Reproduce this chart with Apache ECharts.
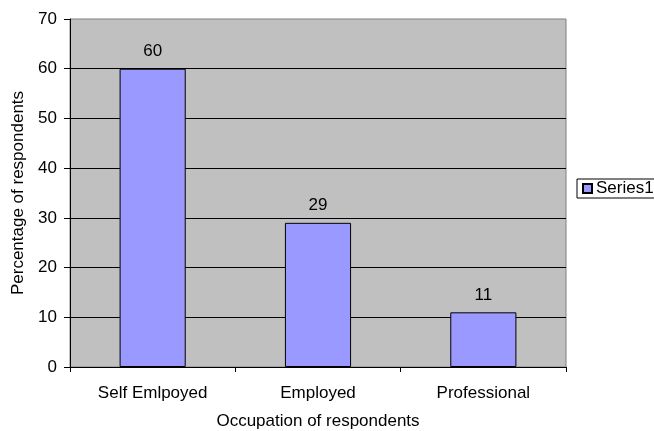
<!DOCTYPE html>
<html>
<head>
<meta charset="utf-8">
<script src="https://cdn.jsdelivr.net/npm/echarts@6/dist/echarts.min.js"></script>
<style>
html, body { margin: 0; padding: 0; background: #fff; }
#bar { width: 654px; height: 431px; }
</style>
</head>
<body>
<div id="bar"></div>
<script>
var categories = ['Self Emlpoyed', 'Employed', 'Professional'];
var series1 = [60, 29, 11];
var yTicks = [0, 10, 20, 30, 40, 50, 60, 70];

var chart = echarts.init(document.getElementById('bar'), null, {renderer: 'canvas'});

var font = 'Liberation Sans, Arial, sans-serif';
// no gridline drawn at the top (70)
var gridColors = yTicks.map(function (v, i) { return i === yTicks.length - 1 ? 'rgba(0,0,0,0)' : '#000'; });

chart.setOption({
    backgroundColor: '#fff',
    animation: false,
    textStyle: {fontFamily: font},
    grid: {
        left: 70, top: 19, width: 496, height: 348,
        outerBoundsMode: 'none',
        show: true, backgroundColor: '#c0c0c0', borderColor: '#808080', borderWidth: 1
    },
    legend: {
        data: ['Series1'],
        left: 577, top: 179,
        orient: 'vertical',
        padding: [1, 10, 1, 5],
        borderColor: '#000', borderWidth: 1,
        itemWidth: 9, itemHeight: 9, itemGap: 0,
        icon: 'rect',
        textStyle: {fontSize: 17, color: '#000', fontFamily: font, padding: [0, 0, 0, -1]}
    },
    xAxis: {
        type: 'category',
        data: categories,
        name: 'Occupation of respondents',
        nameLocation: 'middle',
        nameGap: 46,
        nameTextStyle: {fontSize: 17, color: '#000', fontFamily: font},
        axisLine: {lineStyle: {color: '#000'}},
        axisTick: {show: true, length: 5, lineStyle: {color: '#000'}},
        axisLabel: {fontSize: 17, color: '#000', margin: 18, fontFamily: font}
    },
    yAxis: {
        type: 'value',
        min: 0, max: 70, interval: 10,
        name: 'Percentage of respondents',
        nameLocation: 'middle',
        nameGap: 42,
        nameTextStyle: {fontSize: 17, color: '#000', fontFamily: font},
        axisLine: {show: true, lineStyle: {color: '#000'}},
        axisTick: {show: true, length: 6, lineStyle: {color: '#000'}},
        axisLabel: {fontSize: 17, color: '#000', margin: 13, fontFamily: font},
        splitLine: {show: true, lineStyle: {color: gridColors, width: 1}}
    },
    series: [{
        name: 'Series1',
        type: 'bar',
        data: series1,
        barWidth: '40%',
        itemStyle: {color: '#9999ff', borderColor: '#000', borderWidth: 1},
        label: {show: true, position: 'top', distance: 9, fontSize: 17, color: '#000', fontFamily: font}
    }]
});
</script>
</body>
</html>
